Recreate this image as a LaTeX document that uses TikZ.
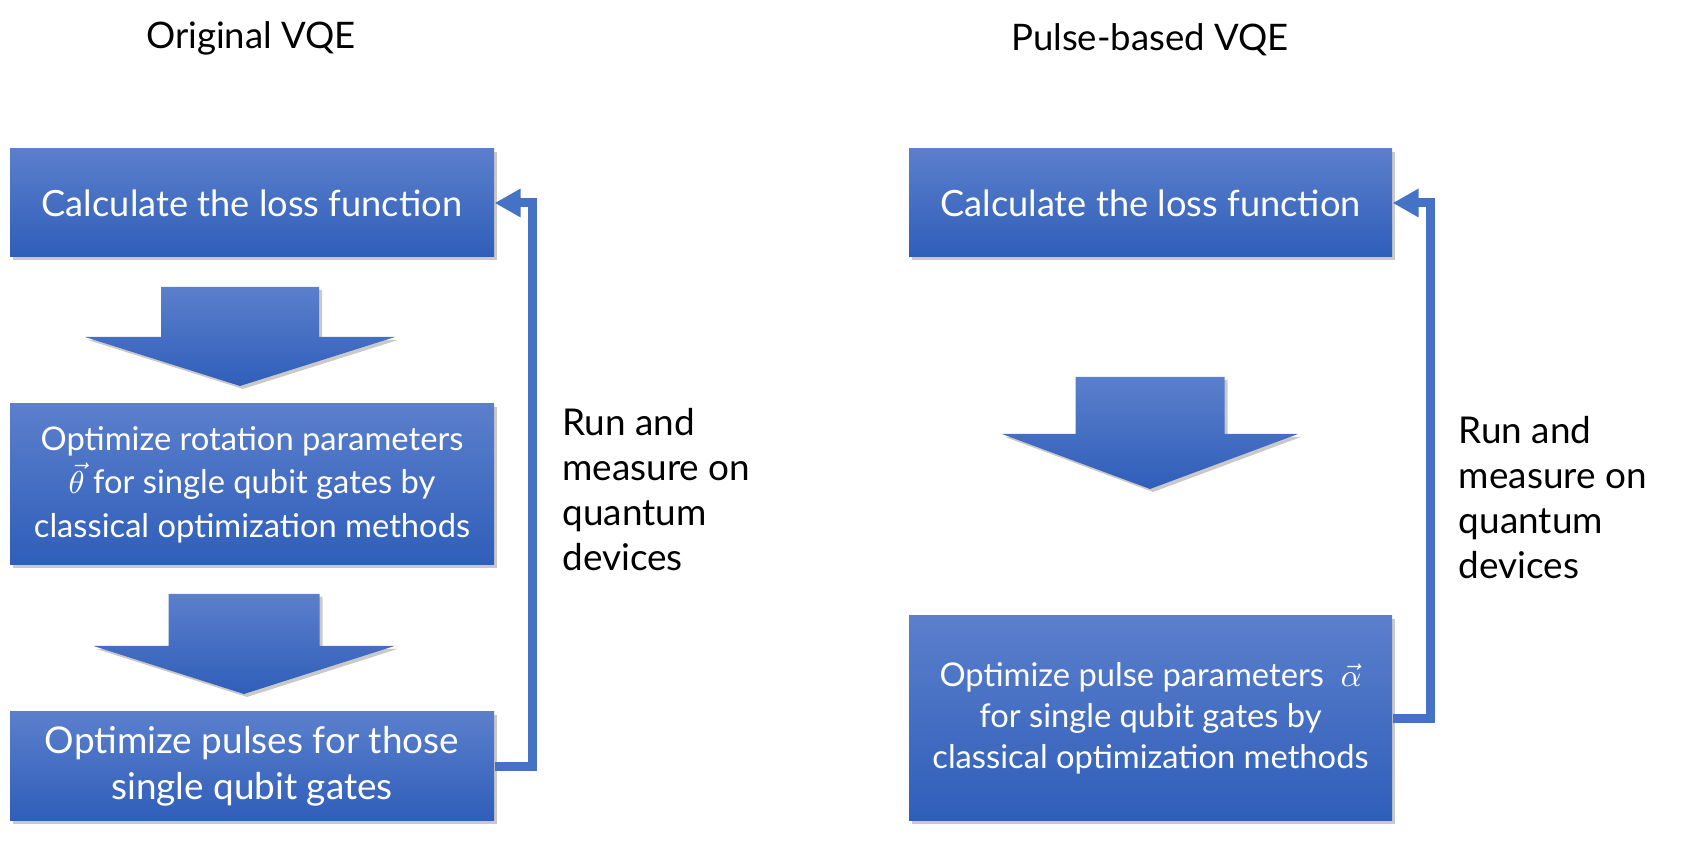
\documentclass[tikz,border=0pt]{standalone}
\usepackage{fontspec}
\setmainfont{Lato}
\usepackage{tikz}
\usetikzlibrary{arrows.meta, shadows}
\definecolor{boxtop}{HTML}{5B7FCC}
\definecolor{boxbottom}{HTML}{2F5EB9}
\definecolor{loopline}{HTML}{4472C4}

\tikzset{
  softshadow/.style={drop shadow={shadow xshift=0.03cm, shadow yshift=-0.03cm, opacity=0.3, fill=black!70}},
  stepbox/.style={shade, top color=boxtop, bottom color=boxbottom, text=white,
    align=center, inner sep=0pt, softshadow},
  feedback/.style={draw=loopline, line width=0.09cm, -{Triangle[length=0.26cm, width=0.27cm]}},
  sidelabel/.style={anchor=west, align=left, font=\fontsize{10.5}{12.8}\selectfont},
  title/.style={font=\fontsize{10.4}{12}\selectfont},
  % down block arrow: half stem, half head, stem length, total length
  pics/bigarrow/.style n args={4}{code={
    \shade[top color=boxtop, bottom color=boxbottom, softshadow]
      (-#1,0) -- (#1,0) -- (#1,-#3) -- (#2,-#3) -- (0,-#4) -- (-#2,-#3) -- (-#1,-#3) -- cycle;
  }}
}

\begin{document}
\begin{tikzpicture}
      % Fix the page size
      \useasboundingbox (0,0) rectangle (16.85,-8.47);

      % Titles
      \node[title] (origtitle) at (2.51,-0.38) {Original VQE};
      \node[title] (pulsetitle) at (11.50,-0.40) {Pulse-based VQE};

      % Original VQE steps
      \node[stepbox, minimum width=4.84cm, minimum height=1.08cm,
        font=\fontsize{10.3}{13}\selectfont] (loss) at (2.52,-2.03) {Calculate the loss function};
      \node[stepbox, minimum width=4.84cm, minimum height=1.61cm,
        font=\fontsize{9.3}{12.4}\selectfont] (rot) at (2.52,-4.845)
        {Optimize rotation parameters\\ $\vec{\theta}$ for single qubit gates by\\ classical optimization methods};
      \node[stepbox, minimum width=4.84cm, minimum height=1.09cm,
        font=\fontsize{10.5}{13.2}\selectfont] (pul) at (2.52,-7.665)
        {Optimize pulses for those\\ single qubit gates};

      % Block arrows between the steps
      \pic at (2.40,-2.87) {bigarrow={0.79}{1.55}{0.50}{0.99}};
      \pic at (2.44,-5.94) {bigarrow={0.755}{1.505}{0.52}{1.00}};

      % Loop back to the loss
      \draw[feedback] (pul.east) -- ++(0.38,0) |- (loss.east);
      \node[sidelabel] (runleft) at (5.50,-4.90) {Run and\\ measure on\\ quantum\\ devices};

      % Pulse-based VQE steps
      \node[stepbox, minimum width=4.83cm, minimum height=1.08cm,
        font=\fontsize{10.3}{13}\selectfont] (lossp) at (11.505,-2.03) {Calculate the loss function};
      \node[stepbox, minimum width=4.83cm, minimum height=2.05cm,
        font=\fontsize{9.3}{11.6}\selectfont] (par) at (11.505,-7.185)
        {Optimize pulse parameters~~$\vec{\alpha}$\\ for single qubit gates by\\ classical optimization methods};

      \pic at (11.50,-3.77) {bigarrow={0.745}{1.48}{0.57}{1.12}};

      \draw[feedback] (par.east) -- ++(0.38,0) |- (lossp.east);
      \node[sidelabel] (runright) at (14.465,-4.98) {Run and\\ measure on\\ quantum\\ devices};
\end{tikzpicture}
\end{document}
